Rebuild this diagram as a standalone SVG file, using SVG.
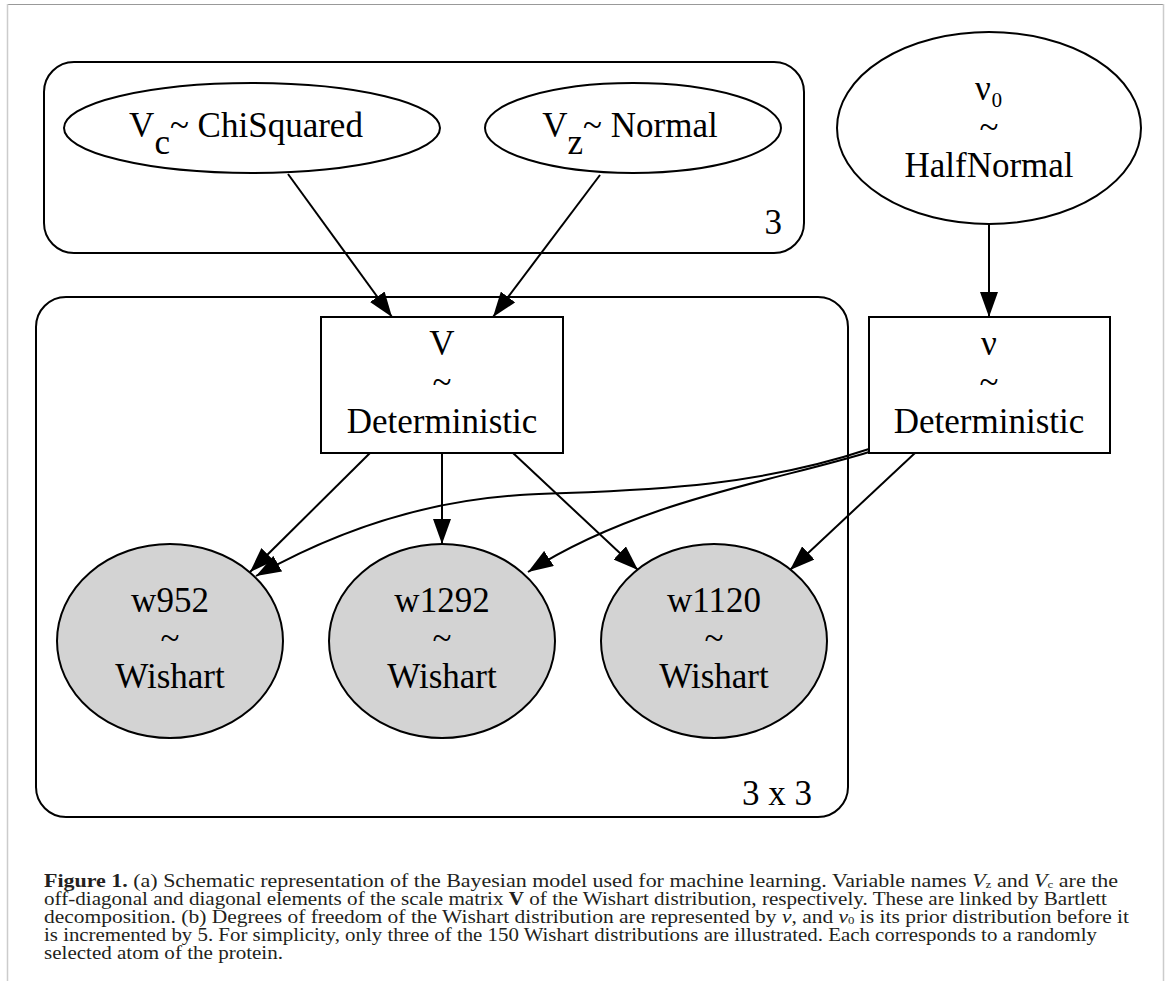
<svg xmlns="http://www.w3.org/2000/svg" width="1167" height="981" viewBox="0 0 1167 981">
<defs>
<marker id="ah" viewBox="0 0 25 18" refX="25" refY="9" markerWidth="25" markerHeight="18" markerUnits="userSpaceOnUse" orient="auto">
<path d="M0,0 L25,9 L0,18 Z" fill="#000"/>
</marker>
<style>
.lbl{font-family:"Liberation Serif","Times New Roman",serif;font-size:35px;fill:#000;text-anchor:middle}
.shape{fill:#fff;stroke:#000;stroke-width:2}
.obs{fill:#d3d3d3;stroke:#000;stroke-width:2}
.plate{fill:none;stroke:#000;stroke-width:2}
.edge{fill:none;stroke:#000;stroke-width:2;marker-end:url(#ah)}
.cap{font-family:"Liberation Serif","Times New Roman",serif;font-size:18.5px;fill:#231f20}
.sub{font-size:11px}
</style>
</defs>
<rect width="1167" height="981" fill="#fff"/>
<g id="frame">
<line x1="7" y1="4.5" x2="1164" y2="4.5" stroke="#999" stroke-width="1.2"/>
<line x1="7.5" y1="4" x2="7.5" y2="981" stroke="#ccc" stroke-width="1.5"/>
<line x1="1163.5" y1="4" x2="1163.5" y2="981" stroke="#ccc" stroke-width="1.5"/>
</g>
<g id="plate3">
<rect class="plate" x="44" y="62" width="760" height="191" rx="30"/>
<text class="lbl" x="782" y="234" style="text-anchor:end">3</text>
</g>
<g id="plate3x3">
<rect class="plate" x="36" y="297" width="812" height="520" rx="30"/>
<text class="lbl" x="812" y="805" style="text-anchor:end">3 x 3</text>
</g>
<g id="connectors">
<path class="edge" d="M288,174 L392,317"/>
<path class="edge" d="M600,175 L493,317"/>
<path class="edge" d="M989,224 L989,317"/>
<path class="edge" d="M370,453 L250,572"/>
<path class="edge" d="M442,453 L442,544"/>
<path class="edge" d="M513,453 L638,570"/>
<path class="edge" d="M915,453 L790,570"/>
<path class="edge" d="M869,449 C740,492 620,490 520,495 C410,502 320,540 256,576"/>
<path class="edge" d="M869,452 C780,480 640,500 528,572"/>
</g>
<g id="Vc">
<ellipse class="shape" cx="252" cy="128" rx="188" ry="45"/>
<text class="lbl" x="246" y="137">V<tspan dy="17">c</tspan><tspan dy="-17">~ ChiSquared</tspan></text>
</g>
<g id="Vz">
<ellipse class="shape" cx="633" cy="128" rx="148" ry="45"/>
<text class="lbl" x="630" y="137">V<tspan dy="17">z</tspan><tspan dy="-17">~ Normal</tspan></text>
</g>
<g id="nu0">
<ellipse class="shape" cx="989" cy="128" rx="152" ry="96"/>
<text class="lbl" x="989" y="100">ν₀</text>
<text class="lbl" x="989" y="139">~</text>
<text class="lbl" x="989" y="177">HalfNormal</text>
</g>
<g id="V">
<rect class="shape" x="321" y="317" width="242" height="136"/>
<text class="lbl" x="442" y="355">V</text>
<text class="lbl" x="442" y="394">~</text>
<text class="lbl" x="442" y="433">Deterministic</text>
</g>
<g id="nu">
<rect class="shape" x="869" y="317" width="241" height="136"/>
<text class="lbl" x="989" y="355">ν</text>
<text class="lbl" x="989" y="394">~</text>
<text class="lbl" x="989" y="433">Deterministic</text>
</g>
<g id="w952">
<ellipse class="obs" cx="170" cy="641" rx="113" ry="97"/>
<text class="lbl" x="170" y="612">w952</text>
<text class="lbl" x="170" y="650">~</text>
<text class="lbl" x="170" y="688">Wishart</text>
</g>
<g id="w1292">
<ellipse class="obs" cx="442" cy="641" rx="113" ry="97"/>
<text class="lbl" x="442" y="612">w1292</text>
<text class="lbl" x="442" y="650">~</text>
<text class="lbl" x="442" y="688">Wishart</text>
</g>
<g id="w1120">
<ellipse class="obs" cx="714" cy="641" rx="113" ry="97"/>
<text class="lbl" x="714" y="612">w1120</text>
<text class="lbl" x="714" y="650">~</text>
<text class="lbl" x="714" y="688">Wishart</text>
</g>
<g id="caption">
<text class="cap" x="44" y="887" textLength="1074" lengthAdjust="spacingAndGlyphs"><tspan font-weight="bold">Figure 1.</tspan> (a) Schematic representation of the Bayesian model used for machine learning. Variable names <tspan font-style="italic">V</tspan><tspan class="sub" dy="1">z</tspan><tspan dy="-1"> and </tspan><tspan font-style="italic">V</tspan><tspan class="sub" dy="1">c</tspan><tspan dy="-1"> are the</tspan></text>
<text class="cap" x="44" y="905" textLength="1063" lengthAdjust="spacingAndGlyphs">off-diagonal and diagonal elements of the scale matrix <tspan font-weight="bold">V</tspan> of the Wishart distribution, respectively. These are linked by Bartlett</text>
<text class="cap" x="44" y="923" textLength="1085" lengthAdjust="spacingAndGlyphs">decomposition. (b) Degrees of freedom of the Wishart distribution are represented by <tspan font-style="italic">ν</tspan>, and <tspan font-style="italic">ν</tspan><tspan class="sub" dy="1">0</tspan><tspan dy="-1"> is its prior distribution before it</tspan></text>
<text class="cap" x="44" y="941" textLength="1053" lengthAdjust="spacingAndGlyphs">is incremented by 5. For simplicity, only three of the 150 Wishart distributions are illustrated. Each corresponds to a randomly</text>
<text class="cap" x="44" y="959" textLength="239" lengthAdjust="spacingAndGlyphs">selected atom of the protein.</text>
</g>
</svg>
